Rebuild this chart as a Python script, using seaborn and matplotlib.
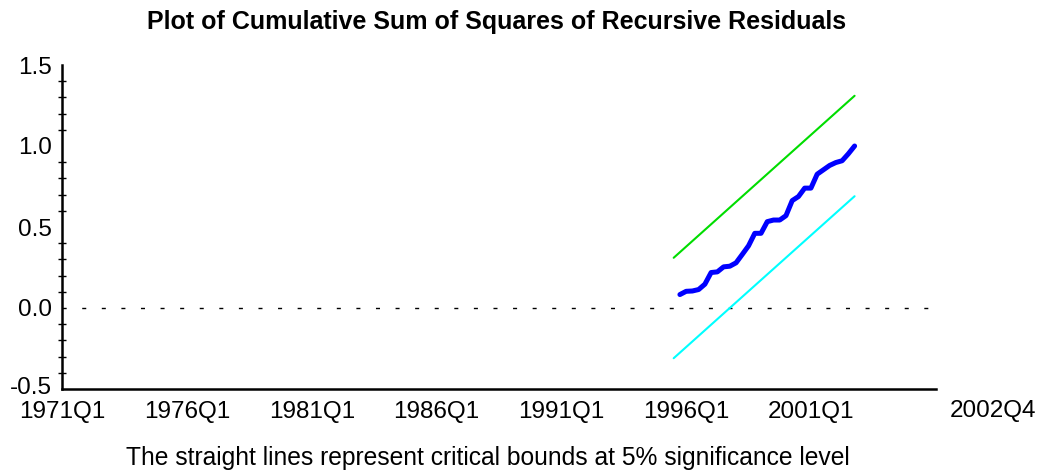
import numpy as np
import pandas as pd
import matplotlib
matplotlib.use("Agg")
import matplotlib.pyplot as plt
import matplotlib.transforms as mtransforms
import seaborn as sns

# ---- data ----
start_quarter = "1995Q4"
end_quarter = "2002Q4"
cusumsq = [0.083, 0.103, 0.105, 0.114, 0.147, 0.219, 0.223, 0.254, 0.258, 0.279,
           0.331, 0.384, 0.461, 0.461, 0.533, 0.543, 0.543, 0.570, 0.663, 0.688,
           0.740, 0.740, 0.826, 0.853, 0.880, 0.898, 0.909, 0.952, 1.000]
bound_quarters = ["1995Q3", "2002Q4"]
upper_bound = [0.31, 1.31]
lower_bound = [-0.31, 0.69]
tick_labels = ["1971Q1", "1976Q1", "1981Q1", "1986Q1", "1991Q1", "1996Q1", "2001Q1"]
end_label = "2002Q4"
axis_start = "1971Q1"
axis_span_quarters = 140

base = pd.Period(axis_start, freq="Q")

def qidx(p):
    return (pd.Period(p, freq="Q") - base).n

periods = pd.period_range(start_quarter, end_quarter, freq="Q")
df = pd.DataFrame({"x": [(p - base).n for p in periods], "y": cusumsq})
bx = [qidx(q) for q in bound_quarters]
dfu = pd.DataFrame({"x": bx, "y": upper_bound})
dfl = pd.DataFrame({"x": bx, "y": lower_bound})

sns.set_theme(style="white")
plt.rcParams["font.family"] = ["Liberation Sans", "DejaVu Sans"]

fig = plt.figure(figsize=(10.47, 4.75), dpi=100)
ax = fig.add_axes([62.3 / 1047, (475 - 389) / 475, (935.7 - 62.3) / 1047, (389 - 65) / 475])

ax.plot([0, axis_span_quarters], [0, 0], color="black", lw=1.0,
        linestyle=(14.0, (2.9, 11.2)), zorder=1)
sns.lineplot(data=dfu, x="x", y="y", ax=ax, color="#00dd00", lw=1.5)
sns.lineplot(data=dfl, x="x", y="y", ax=ax, color="#00ffff", lw=1.5)
sns.lineplot(data=df, x="x", y="y", ax=ax, color="#0000ff", lw=3.6,
             solid_capstyle="round", solid_joinstyle="round")

ax.set_xlim(0, axis_span_quarters)
ax.set_ylim(-0.5, 1.5)
ax.set_xlabel("")
ax.set_ylabel("")
for s in ["top", "right"]:
    ax.spines[s].set_visible(False)
for s in ["left", "bottom"]:
    ax.spines[s].set_color("black")
    ax.spines[s].set_linewidth(1.8)

xt = [qidx(t) for t in tick_labels] + [axis_span_quarters]
ax.set_xticks(xt)
ax.set_xticklabels(tick_labels + [""])
ax.set_yticks([-0.5, 0.0, 0.5, 1.0, 1.5])
ax.set_yticklabels(["-0.5", "0.0", "0.5", "1.0", "1.5"])
ax.set_yticks(np.arange(-0.5, 1.51, 0.1), minor=True)
ax.tick_params(axis="x", which="major", direction="inout", length=11, width=1.1,
               color="black", labelsize=17.5, pad=3, labelcolor="black")
ax.tick_params(axis="y", which="major", direction="inout", length=10, width=1.1,
               color="black", labelsize=17.5, pad=2.5, labelcolor="black")
ax.tick_params(axis="y", which="minor", direction="inout", length=6, width=1.0,
               color="black", left=True)
# nudge the bottom y label slightly upward, as in the reference
lbl = ax.get_yticklabels()[0]
lbl.set_transform(lbl.get_transform() + mtransforms.ScaledTranslation(0, 3 / 100, fig.dpi_scale_trans))

ax.annotate(end_label, xy=(axis_span_quarters, -0.5), xycoords="data",
            xytext=(57, -22), textcoords="offset pixels", ha="center", va="center",
            fontsize=17.5, color="black", annotation_clip=False)

fig.text(496.5 / 1047, 1 - 22 / 475, "Plot of Cumulative Sum of Squares of Recursive Residuals",
         ha="center", va="center", fontsize=18, fontweight="bold", color="black")
fig.text(488 / 1047, 1 - 458 / 475, "The straight lines represent critical bounds at 5% significance level",
         ha="center", va="center", fontsize=17.7, color="black")

fig.savefig("out.png", dpi=100)
